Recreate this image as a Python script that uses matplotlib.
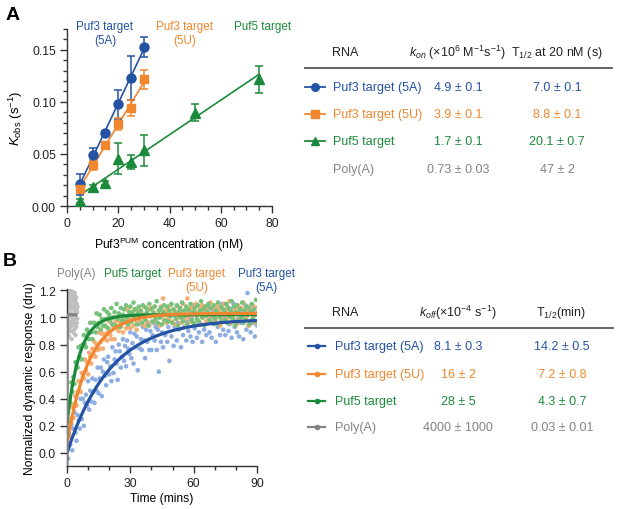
import numpy as np
import matplotlib
matplotlib.use('Agg')
import matplotlib.pyplot as plt
from matplotlib.ticker import MultipleLocator

plt.rcParams['font.family'] = ['Liberation Sans', 'DejaVu Sans']
plt.rcParams['mathtext.fontset'] = 'custom'
plt.rcParams['mathtext.rm'] = 'Liberation Sans'
plt.rcParams['mathtext.it'] = 'Liberation Sans:italic'

# *** Panel A data: kobs vs Puf3 concentration *** #
conc_3 = [5, 10, 15, 20, 25, 30]
kobs_5a = [0.0208, 0.049, 0.0705, 0.0978, 0.123, 0.153]
err_5a = [0.010, 0.007, 0.002, 0.014, 0.021, 0.0095]
kobs_5u = [0.0167, 0.0394, 0.0587, 0.079, 0.094, 0.1215]
err_5u = [0.003, 0.005, 0.002, 0.006, 0.008, 0.009]
conc_5 = [5, 10, 15, 20, 25, 30, 50, 75]
kobs_p5 = [0.0048, 0.0186, 0.0218, 0.0455, 0.0426, 0.0535, 0.0897, 0.1218]
err_p5 = [0.002, 0.002, 0.002, 0.015, 0.0066, 0.015, 0.0078, 0.013]

# *** Panel B data: dissociation traces (sampled every 0.5 min) *** #
t_trace = np.arange(0, 90.5, 0.5)
resp_5a = [0.02, -0.04, 0.14, 0.06, 0.21, 0.02, 0.18, 0.30, 0.15, 0.09,
           0.28, 0.24, 0.18, 0.40, 0.25, 0.40, 0.20, 0.37, 0.43, 0.35,
           0.53, 0.32, 0.46, 0.38, 0.55, 0.45, 0.37, 0.54, 0.46, 0.63,
           0.44, 0.55, 0.63, 0.42, 0.60, 0.69, 0.57, 0.50, 0.67, 0.71,
           0.58, 0.64, 0.53, 0.78, 0.59, 0.69, 0.75, 0.66, 0.54, 0.80,
           0.75, 0.63, 0.71, 0.84, 0.68, 0.79, 0.64, 0.83, 0.77, 0.73,
           0.89, 0.70, 0.81, 0.66, 0.88, 0.78, 0.86, 0.61, 0.95, 0.77,
           0.84, 0.76, 0.93, 0.83, 0.70, 0.91, 0.82, 0.96, 0.76, 0.90,
           0.76, 0.87, 0.96, 0.83, 0.93, 0.76, 0.91, 0.60, 1.00, 0.82,
           0.89, 0.78, 0.98, 0.87, 1.03, 0.82, 0.93, 0.68, 1.01, 0.86,
           0.96, 0.79, 0.93, 1.01, 0.83, 0.96, 0.91, 1.05, 0.78, 0.99,
           0.87, 0.93, 1.02, 0.83, 0.97, 0.90, 1.05, 0.86, 0.99, 0.82,
           1.09, 0.92, 1.02, 0.85, 0.97, 0.89, 1.05, 0.95, 0.82, 1.02,
           0.91, 1.05, 0.87, 0.97, 1.08, 0.89, 1.00, 0.85, 1.05, 0.95,
           1.00, 0.82, 1.08, 0.93, 1.03, 0.87, 0.97, 1.10, 0.91, 1.02,
           0.87, 1.00, 1.08, 0.90, 0.95, 1.06, 0.85, 1.02, 1.10, 0.93,
           1.05, 0.89, 0.99, 0.86, 1.07, 0.96, 1.03, 0.84, 1.01, 1.09,
           0.91, 1.18, 0.94, 1.05, 0.89, 1.09, 0.96, 1.03, 0.86, 1.07,
           0.94]
resp_5u = [0.05, 0.15, 0.12, 0.25, 0.23, 0.34, 0.26, 0.36, 0.42, 0.35,
           0.45, 0.53, 0.46, 0.45, 0.59, 0.56, 0.55, 0.69, 0.61, 0.67,
           0.58, 0.74, 0.71, 0.66, 0.77, 0.73, 0.82, 0.71, 0.80, 0.76,
           0.89, 0.77, 0.82, 0.88, 0.77, 0.88, 0.84, 0.93, 0.83, 0.89,
           0.97, 0.87, 0.84, 0.95, 0.93, 0.84, 0.97, 0.92, 1.00, 0.90,
           0.97, 0.93, 1.01, 0.89, 0.96, 1.00, 0.92, 1.06, 0.94, 0.98,
           0.92, 1.03, 1.00, 0.94, 1.06, 0.98, 0.91, 1.02, 1.05, 0.97,
           1.04, 0.95, 1.01, 1.08, 0.94, 1.02, 0.97, 1.06, 0.94, 1.01,
           1.07, 0.97, 1.04, 1.08, 0.99, 0.96, 1.02, 1.05, 0.94, 1.08,
           1.01, 1.14, 0.98, 1.05, 0.96, 1.07, 0.99, 1.04, 1.09, 0.97,
           1.02, 1.06, 0.95, 1.04, 0.99, 1.08, 1.01, 1.07, 0.96, 1.03,
           1.10, 0.98, 1.05, 0.94, 1.14, 1.00, 1.06, 0.97, 1.08, 1.02,
           0.96, 1.06, 1.10, 1.01, 0.98, 1.04, 1.07, 0.95, 1.09, 1.00,
           1.05, 1.08, 0.97, 1.03, 1.06, 0.99, 1.11, 1.02, 0.96, 1.07,
           1.04, 0.98, 1.09, 1.01, 1.06, 0.94, 1.08, 1.03, 0.99, 1.10,
           0.97, 1.05, 1.07, 1.00, 1.12, 0.96, 1.04, 1.01, 1.08, 0.98,
           1.06, 0.95, 1.09, 1.03, 0.99, 1.07, 1.02, 1.11, 0.97, 1.05,
           1.00, 1.08, 0.94, 1.06, 1.04, 0.98, 1.09, 1.01, 0.96, 1.07,
           1.03]
resp_p5 = [0.25, 0.23, 0.39, 0.37, 0.52, 0.45, 0.56, 0.51, 0.67, 0.64,
           0.63, 0.78, 0.71, 0.79, 0.69, 0.80, 0.87, 0.80, 0.78, 0.91,
           0.89, 0.84, 0.96, 0.89, 0.84, 0.96, 0.96, 0.89, 1.03, 0.93,
           0.96, 1.02, 0.91, 0.99, 0.94, 1.06, 0.94, 0.99, 1.04, 0.92,
           1.02, 0.98, 1.07, 0.95, 1.00, 1.04, 0.94, 1.10, 0.99, 1.03,
           0.93, 1.07, 0.98, 1.02, 1.06, 0.97, 1.09, 1.00, 0.95, 1.04,
           1.08, 0.97, 1.04, 1.11, 0.99, 1.06, 0.95, 1.03, 1.08, 1.00,
           1.05, 0.96, 1.09, 1.02, 0.98, 1.07, 1.04, 0.94, 1.10, 1.01,
           1.06, 0.97, 1.03, 1.08, 0.99, 1.12, 0.96, 1.05, 1.00, 1.07,
           0.95, 1.04, 1.09, 0.98, 1.02, 1.08, 0.97, 1.05, 1.01, 1.10,
           0.96, 1.06, 1.03, 0.99, 1.09, 0.94, 1.04, 1.07, 1.00, 1.11,
           0.97, 1.05, 1.01, 1.08, 0.95, 1.06, 1.02, 1.10, 0.98, 1.04,
           0.96, 1.07, 1.03, 0.99, 1.09, 0.97, 1.05, 1.12, 1.00, 1.06,
           0.94, 1.08, 1.01, 1.04, 1.10, 0.98, 1.07, 0.96, 1.02, 1.09,
           0.99, 1.05, 0.95, 1.11, 1.03, 1.00, 1.08, 0.97, 1.06, 1.04,
           0.98, 1.10, 0.96, 1.07, 1.01, 1.05, 1.12, 0.99, 1.08, 0.94,
           1.04, 1.09, 0.97, 1.03, 1.06, 1.00, 1.11, 0.96, 1.05, 0.98,
           1.08, 1.02, 1.07, 0.95, 1.04, 1.10, 0.99, 1.06, 0.97, 1.13,
           1.03]
# Poly(A) trace: only first 5 min recorded
resp_pa = [1.12, 0.95, 1.05, 0.88, 1.18, 0.99, 1.08, 0.92, 1.15, 1.01,
           0.86, 1.10, 0.97, 1.20, 0.93, 1.06, 1.13, 0.90, 1.03, 1.17,
           0.96, 1.09, 0.84, 1.14, 1.00, 0.94, 1.11, 1.19, 0.98, 1.07,
           0.89, 1.16, 1.02, 0.95, 1.12, 0.91, 1.05, 1.18, 0.97, 1.09,
           0.87, 1.13, 1.00, 1.15, 0.93, 1.06, 1.10, 0.96, 1.04, 0.99,
           1.08]
t_pa = np.linspace(0, 5, len(resp_pa))

# Fit parameters (koff in 1e-4 s^-1 from table, start/plateau)
koff_fit = [8.1, 16, 28, 4000]
fit_start = [0.0, 0.07, 0.22, -0.096]
fit_plateau = [0.99, 1.03, 1.02, 1.02]

# *** Table text *** #
rna_names = ['Puf3 target (5A)', 'Puf3 target (5U)', 'Puf5 target', 'Poly(A)']
kon_txt = ['4.9 \u00b1 0.1', '3.9 \u00b1 0.1', '1.7 \u00b1 0.1', '0.73 \u00b1 0.03']
thalf_on_txt = ['7.0 \u00b1 0.1', '8.8 \u00b1 0.1', '20.1 \u00b1 0.7', '47 \u00b1 2']
koff_txt = ['8.1 \u00b1 0.3', '16 \u00b1 2', '28 \u00b1 5', '4000 \u00b1 1000']
thalf_off_txt = ['14.2 \u00b1 0.5', '7.2 \u00b1 0.8', '4.3 \u00b1 0.7', '0.03 \u00b1 0.01']

col_dark = ['#2453a4', '#f0862e', '#1c8a3b', '#838383']
col_light = ['#8eaee2', '#f6ad74', '#76c27a', '#bfbfbf']
markers = ['o', 's', '^', None]

W, H = 617, 510
fig = plt.figure(figsize=(W/100, H/100), dpi=100)

def style_axes(ax):
    for s in ['top', 'right']:
        ax.spines[s].set_visible(False)
    for s in ['left', 'bottom']:
        ax.spines[s].set_linewidth(1.0)
        ax.spines[s].set_color('#333333')
    ax.tick_params(which='major', length=5, width=1.0, color='#333333', labelsize=8.7,
                   labelcolor='#222222', pad=3)
    ax.tick_params(which='minor', length=3, width=1.0, color='#333333')

# Panel A
axA = fig.add_axes([67/W, 1-207/H, 205/W, 177/H])
series_a = [(conc_3, kobs_5a, err_5a), (conc_3, kobs_5u, err_5u), (conc_5, kobs_p5, err_p5)]
msz = [6.5, 6, 6.5]
for i, (xx, yy, ee) in enumerate(series_a):
    p = np.polyfit(xx, yy, 1)
    xf = np.array([min(xx), max(xx)])
    axA.plot(xf, np.polyval(p, xf), color=col_dark[i], lw=1.2, zorder=2)
    axA.errorbar(xx, yy, yerr=ee, fmt=markers[i], color=col_dark[i], ms=msz[i],
                 capsize=3, elinewidth=1.1, capthick=1.1, zorder=3)
axA.set_xlim(0, 80)
axA.set_ylim(0, 0.17)
axA.xaxis.set_major_locator(MultipleLocator(20))
axA.xaxis.set_minor_locator(MultipleLocator(5))
axA.yaxis.set_minor_locator(MultipleLocator(0.01))
axA.set_yticks([0, 0.05, 0.10, 0.15])
axA.set_yticklabels(['0.00', '0.05', '0.10', '0.15'])
style_axes(axA)
axA.set_xlabel(r'Puf3$^{\rm PUM}$ concentration (nM)', fontsize=8.7, labelpad=4)
axA.set_ylabel(r'$K_{\rm obs}$ (s$^{-1}$)', fontsize=9.5, labelpad=5)

# Panel B
axB = fig.add_axes([67/W, 1-467/H, 190/W, 177/H])
traces = [resp_5a, resp_5u, resp_p5]
for i, yy in enumerate(traces):
    axB.scatter(t_trace, yy, s=11, color=col_light[i], edgecolors='none', zorder=1 + i * 0.1)
axB.scatter(t_pa, resp_pa, s=10, color=col_light[3], edgecolors='none', zorder=1.4)
t_fit = np.linspace(0, 90, 2000)
for i in [0, 2, 1, 3]:
    k = koff_fit[i] * 1e-4 * 60  # per minute
    if i == 3:
        tt = np.linspace(0, 5, 2000)
    else:
        tt = t_fit
    yf = fit_plateau[i] - (fit_plateau[i] - fit_start[i]) * np.exp(-k * tt)
    axB.plot(tt, yf, color=col_dark[i], lw=2.3, zorder=3, solid_capstyle='butt')
axB.set_xlim(0, 90)
axB.set_ylim(-0.096, 1.21)
axB.xaxis.set_major_locator(MultipleLocator(30))
axB.xaxis.set_minor_locator(MultipleLocator(10))
axB.set_yticks([0, 0.2, 0.4, 0.6, 0.8, 1.0, 1.2])
axB.set_yticklabels(['0.0', '0.2', '0.4', '0.6', '0.8', '1.0', '1.2'])
style_axes(axB)
axB.set_xlabel('Time (mins)', fontsize=8.7, labelpad=2)
axB.set_ylabel('Normalized dynamic response (dru)', fontsize=8.7, labelpad=2)

# Overlay in pixel coordinates for labels and tables
ov = fig.add_axes([0, 0, 1, 1])
ov.set_xlim(0, W)
ov.set_ylim(H, 0)
ov.axis('off')

ov.text(6, 16, 'A', fontsize=14, fontweight='bold', va='center', ha='left')
ov.text(3, 262, 'B', fontsize=14, fontweight='bold', va='center', ha='left')

# Series labels, panel A
ov.text(105, 34, 'Puf3 target\n(5A)', color=col_dark[0], fontsize=8.4, ha='center', va='center', linespacing=1.25)
ov.text(185, 34, 'Puf3 target\n(5U)', color=col_dark[1], fontsize=8.4, ha='center', va='center', linespacing=1.25)
ov.text(263, 27, 'Puf5 target', color=col_dark[2], fontsize=8.4, ha='center', va='center')

# Series labels, panel B
ov.text(76, 274, 'Poly(A)', color=col_dark[3], fontsize=8.4, ha='center', va='center')
ov.text(133, 274, 'Puf5 target', color=col_dark[2], fontsize=8.4, ha='center', va='center')
ov.text(197, 281, 'Puf3 target\n(5U)', color=col_dark[1], fontsize=8.4, ha='center', va='center', linespacing=1.25)
ov.text(266, 281, 'Puf3 target\n(5A)', color=col_dark[0], fontsize=8.4, ha='center', va='center', linespacing=1.25)

# Table A
ov.text(345, 53, 'RNA', fontsize=9, ha='center', va='center', color='#222222')
ov.text(457, 53, r'$k_{on}$ (' + '\u00d7' + r'10$^6$ M$^{-1}$s$^{-1}$)',
        fontsize=9, ha='center', va='center', color='#222222')
ov.text(557, 53, r'T$_{1/2}$ at 20 nM (s)', fontsize=9, ha='center', va='center', color='#222222')
ov.plot([305, 612], [69, 69], color='#555555', lw=1.3)
rows_a = [88, 115, 142, 170]
for i, yy in enumerate(rows_a):
    if markers[i] is not None:
        ov.plot([305, 325], [yy, yy], color=col_dark[i], lw=1.3)
        ov.plot([315], [yy], marker=markers[i], color=col_dark[i], ms=5.5)
    ov.text(333, yy, rna_names[i], color=col_dark[i], fontsize=9, ha='left', va='center')
    ov.text(458, yy, kon_txt[i], color=col_dark[i], fontsize=9, ha='center', va='center')
    ov.text(557, yy, thalf_on_txt[i], color=col_dark[i], fontsize=9, ha='center', va='center')

# Table B
ov.text(345, 313, 'RNA', fontsize=9, ha='center', va='center', color='#222222')
ov.text(458, 313, r'$k_{off}$(' + '\u00d7' + r'10$^{-4}$ s$^{-1}$)', fontsize=9, ha='center', va='center', color='#222222')
ov.text(561, 313, r'T$_{1/2}$(min)', fontsize=9, ha='center', va='center', color='#222222')
ov.plot([305, 613], [329, 329], color='#555555', lw=1.3)
rows_b = [347, 375, 402, 428]
for i, yy in enumerate(rows_b):
    ov.plot([308, 325], [yy, yy], color=col_dark[i], lw=1.6)
    ov.plot([316.5], [yy], marker='o', color=col_dark[i], ms=3)
    ov.text(335, yy, rna_names[i], color=col_dark[i], fontsize=9, ha='left', va='center')
    ov.text(458, yy, koff_txt[i], color=col_dark[i], fontsize=9, ha='center', va='center')
    ov.text(562, yy, thalf_off_txt[i], color=col_dark[i], fontsize=9, ha='center', va='center')

fig.savefig('out.png', dpi=100)
